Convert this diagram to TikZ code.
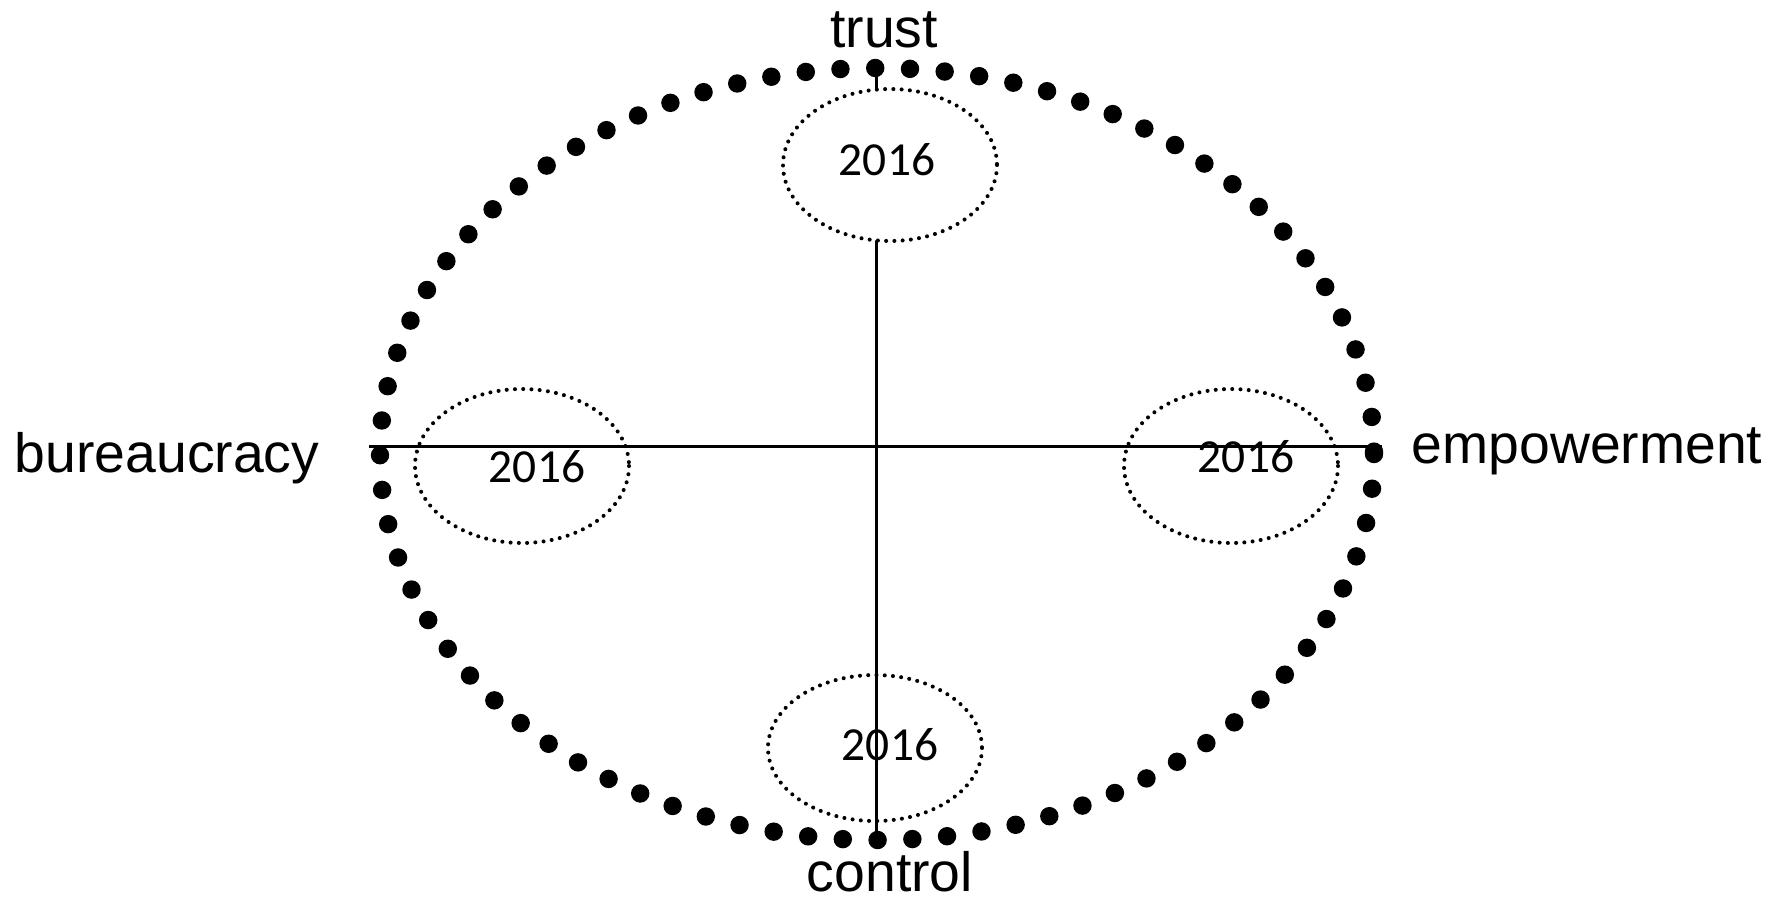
\documentclass[tikz,border=0pt]{standalone}
\usepackage{fontspec}
\setmainfont{Liberation Sans}
\newfontfamily\yearfont{Carlito}
\begin{document}
\begin{tikzpicture}[x=0.02cm,y=-0.02cm,
  axislabel/.style={font=\fontsize{31.5}{36}\selectfont,anchor=base,inner sep=0pt},
  year/.style={font=\yearfont\fontsize{27}{30}\selectfont,anchor=base,inner sep=0pt},
  axis/.style={line width=1.7pt},
  blobs/.style={line width=10.5pt,line cap=round,dash pattern=on 0pt off 19.8pt},
  ring/.style={line width=2.3pt,line cap=round,dash pattern=on 0pt off 4.7pt}]
  \useasboundingbox (0,0) rectangle (1771,900);
  % axis ends
  \coordinate (west) at (369,446);
  \coordinate (east) at (1382,446);
  \coordinate (north) at (876,67);
  \coordinate (south) at (876,838);
  \draw[axis] (west) -- (east);
  \draw[axis] (north) -- (south);
  % outer dotted ring
  \draw[blobs] (877,454) ellipse [x radius=497, y radius=386];
  % year rings
  \draw[ring,fill=white] (890,165) ellipse [x radius=107, y radius=76];
  \draw[ring] (522,466) ellipse [x radius=107, y radius=77];
  \draw[ring] (1231,466) ellipse [x radius=107, y radius=77];
  \draw[ring] (875,748) ellipse [x radius=107, y radius=73];
  \node[year] (ytop) at (887,175) {2016};
  \node[year] (yleft) at (537,482) {2016};
  \node[year] (yright) at (1246,472) {2016};
  \node[year] (ybottom) at (890,760) {2016};
  % axis labels
  \node[axislabel] (trust) at (884,47) {trust};
  \node[axislabel] (control) at (890,891) {control};
  \node[axislabel] (bureaucracy) at (167,472) {bureaucracy};
  \node[axislabel] (empowerment) at (1587,463) {empowerment};
\end{tikzpicture}
\end{document}
